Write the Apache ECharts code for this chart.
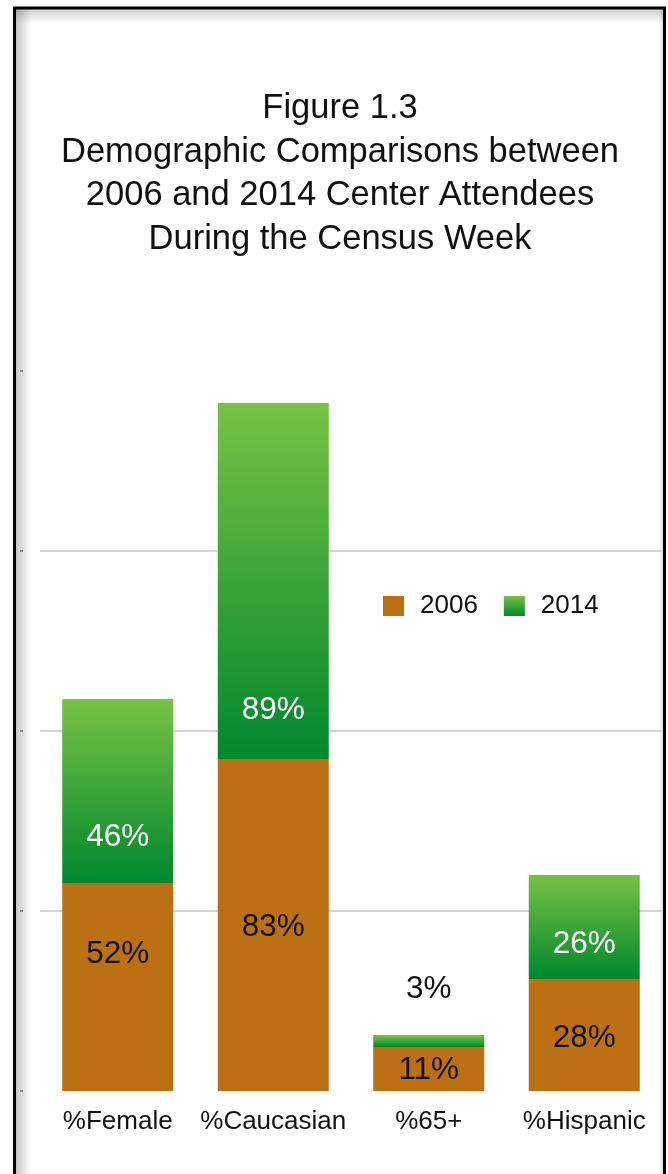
<!DOCTYPE html>
<html>
<head>
<meta charset="utf-8">
<title>Figure 1.3</title>
<script src="https://cdn.jsdelivr.net/npm/echarts@6/dist/echarts.min.js"></script>
<style>
  html, body { margin: 0; padding: 0; background: #fff; }
  #chart { width: 668px; height: 1174px; }
</style>
</head>
<body>
<div id="chart"></div>
<script>
// Attendee demographics, percent of attendees
const categories = ['%Female', '%Caucasian', '%65+', '%Hispanic'];
const values2006 = [52, 83, 11, 28];
const values2014 = [46, 89, 3, 26];
const seriesNames = ['2006', '2014'];
const axisMax = 180;
const axisStep = 45;

const FONT = '"Liberation Sans", Arial, Helvetica, sans-serif';
const BROWN = '#ba7013';
const greenFill = new echarts.graphic.LinearGradient(0, 0, 0, 1, [
  { offset: 0, color: '#78c244' },
  { offset: 1, color: '#00872d' }
]);

// per-bar label nudges
const offsets2006 = [[0, -33], [0, 2], [0, 1], [0, 3]];
const offsets2014 = [[0, 0], [0, -3], [0, 0], [0, 11]];

const data2006 = values2006.map((v, i) => ({
  value: v,
  label: { offset: offsets2006[i] }
}));
const data2014 = values2014.map((v, i) => {
  const item = { value: v, label: { offset: offsets2014[i] } };
  if (v < 8) {
    // short segment: the value sits above the bar in black
    item.label.position = 'top';
    item.label.color = '#111';
    item.label.distance = 30;
  }
  return item;
});

const chart = echarts.init(document.getElementById('chart'), null, { renderer: 'canvas' });
chart.setOption({
  animation: false,
  backgroundColor: '#ffffff',
  textStyle: { fontFamily: FONT },
  title: {
    text: 'Figure 1.3\nDemographic Comparisons between\n2006 and 2014 Center Attendees\nDuring the Census Week',
    left: 340,
    top: 87,
    textAlign: 'center',
    padding: 0,
    textStyle: {
      fontFamily: FONT,
      fontSize: 34.5,
      fontWeight: 'normal',
      lineHeight: 43.5,
      color: '#111'
    }
  },
  legend: {
    data: seriesNames,
    left: 383,
    top: 593,
    padding: 0,
    icon: 'rect',
    itemWidth: 21,
    itemHeight: 20,
    itemGap: 26,
    textStyle: {
      fontFamily: FONT,
      fontSize: 26,
      color: '#111',
      padding: [0, 0, 0, 11]
    }
  },
  grid: {
    left: 40,
    right: 6,
    top: 371,
    bottom: 83,
    containLabel: false
  },
  xAxis: {
    type: 'category',
    data: categories,
    axisLine: { show: false },
    axisTick: { show: false },
    axisLabel: {
      interval: 0,
      fontFamily: FONT,
      fontSize: 26,
      color: '#111',
      margin: 18
    }
  },
  yAxis: {
    type: 'value',
    min: 0,
    max: axisMax,
    interval: axisStep,
    position: 'left',
    offset: 17,
    axisLine: { show: false },
    axisLabel: { show: false },
    axisTick: {
      show: true,
      length: 3,
      lineStyle: { color: '#8a8a8a', width: 2 }
    },
    splitLine: {
      show: true,
      showMinLine: false,
      showMaxLine: false,
      lineStyle: { color: '#d4d4d4', width: 2 }
    }
  },
  graphic: [
    // inner shading along the frame edges
    {
      type: 'rect', silent: true, z: 0,
      shape: { x: 16, y: 9, width: 15, height: 1170 },
      style: {
        fill: new echarts.graphic.LinearGradient(0, 0, 1, 0, [
          { offset: 0, color: 'rgba(0,0,0,0.22)' },
          { offset: 1, color: 'rgba(0,0,0,0)' }
        ])
      }
    },
    {
      type: 'rect', silent: true, z: 0,
      shape: { x: 16, y: 9, width: 647, height: 14 },
      style: {
        fill: new echarts.graphic.LinearGradient(0, 0, 0, 1, [
          { offset: 0, color: 'rgba(0,0,0,0.2)' },
          { offset: 1, color: 'rgba(0,0,0,0)' }
        ])
      }
    },
    {
      type: 'rect', silent: true, z: 0,
      shape: { x: 659, y: 9, width: 4, height: 1170 },
      style: {
        fill: new echarts.graphic.LinearGradient(1, 0, 0, 0, [
          { offset: 0, color: 'rgba(0,0,0,0.15)' },
          { offset: 1, color: 'rgba(0,0,0,0)' }
        ])
      }
    },
    // black frame
    {
      type: 'rect', silent: true, z: 1,
      shape: { x: 14.5, y: 8, width: 650, height: 1200 },
      style: { fill: 'none', stroke: '#000', lineWidth: 3 }
    }
  ],
  series: [
    {
      name: seriesNames[0],
      type: 'bar',
      stack: 'total',
      barWidth: 111,
      data: data2006,
      itemStyle: { color: BROWN },
      label: {
        show: true,
        position: 'inside',
        formatter: '{c}%',
        fontFamily: FONT,
        fontSize: 31.5,
        color: '#111'
      }
    },
    {
      name: seriesNames[1],
      type: 'bar',
      stack: 'total',
      barWidth: 111,
      data: data2014,
      itemStyle: { color: greenFill },
      label: {
        show: true,
        position: 'insideBottom',
        distance: 30,
        formatter: '{c}%',
        fontFamily: FONT,
        fontSize: 31.5,
        color: '#ffffff'
      }
    }
  ]
});
</script>
</body>
</html>
